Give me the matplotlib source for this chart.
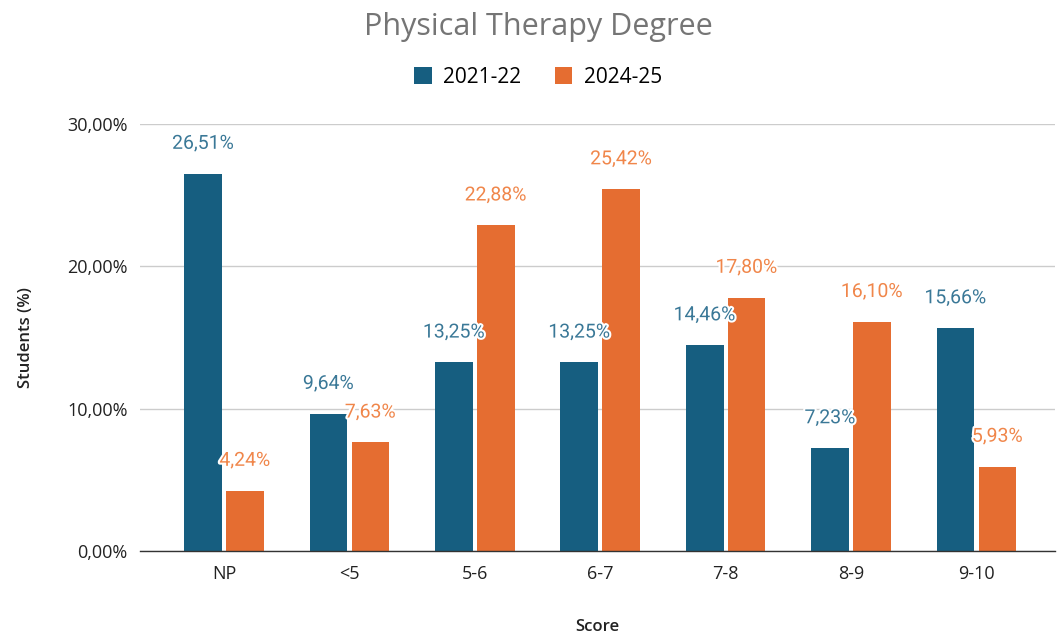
import numpy as np
import matplotlib
matplotlib.use('Agg')
import matplotlib.pyplot as plt
import matplotlib.patheffects as pe

categories = ['NP', '<5', '5-6', '6-7', '7-8', '8-9', '9-10']
series_names = ['2021-22', '2024-25']
pct_2021 = [26.51, 9.64, 13.25, 13.25, 14.46, 7.23, 15.66]
pct_2024 = [4.24, 7.63, 22.88, 25.42, 17.80, 16.10, 5.93]
y_ticks = [0, 10, 20, 30]

bar_colors = ['#165e80', '#e56d31']
label_colors = ['#3a7897', '#f0864a']


def fmt(v):
    return f'{v:.2f}%'.replace('.', ',')


fig = plt.figure(figsize=(10.57, 6.39), dpi=100)
ax = fig.add_axes([0.1325, 0.1377, 0.866, 0.6683])

x = np.arange(len(categories))
w = 0.30
off = 0.167

halo = [pe.withStroke(linewidth=3, foreground='white')]
for vals, dx, col, lcol, name in [(pct_2021, -off, bar_colors[0], label_colors[0], series_names[0]),
                                  (pct_2024, off, bar_colors[1], label_colors[1], series_names[1])]:
    ax.bar(x + dx, vals, width=w, color=col, label=name, zorder=2)
    for xi, v in zip(x + dx, vals):
        ax.annotate(fmt(v), (xi, v), xytext=(0, 15), textcoords='offset points',
                    ha='center', va='bottom', fontsize=14, color=lcol,
                    family='Roboto', path_effects=halo, zorder=4, annotation_clip=False)

ax.set_xlim(-0.67, 6.63)
ax.set_ylim(0, 30)
ax.set_yticks(y_ticks)
ax.set_yticklabels([f'{t},00%' for t in y_ticks], family='Open Sans', fontsize=13, color='#222222')
ax.set_xticks(x)
ax.set_xticklabels(categories, family='Open Sans', fontsize=13, color='#222222')
ax.tick_params(axis='both', length=0)
ax.tick_params(axis='y', pad=9)
ax.tick_params(axis='x', pad=10)
ax.grid(axis='y', color='#cccccc', linewidth=1, zorder=0)
ax.set_axisbelow(True)
for s in ['top', 'right', 'left']:
    ax.spines[s].set_visible(False)
ax.spines['bottom'].set_color('#333333')
ax.spines['bottom'].set_linewidth(1)

ax.set_xlabel('Score', family='Open Sans', fontsize=12, fontweight='semibold', color='#222222', labelpad=26)
ax.set_ylabel('Students (%)', family='Open Sans', fontsize=12, fontweight='semibold', color='#222222', labelpad=24)

fig.text(0.509, 0.958, 'Physical Therapy Degree', ha='center', va='center',
         family='Open Sans', fontsize=22, color='#757575')
fig.legend(loc='center', bbox_to_anchor=(0.509, 0.879), ncol=2, frameon=False,
           prop={'family': 'Open Sans', 'size': 15}, handlelength=0.85, handleheight=0.85,
           columnspacing=1.6, handletextpad=0.55)

fig.savefig('out.png', dpi=100)
